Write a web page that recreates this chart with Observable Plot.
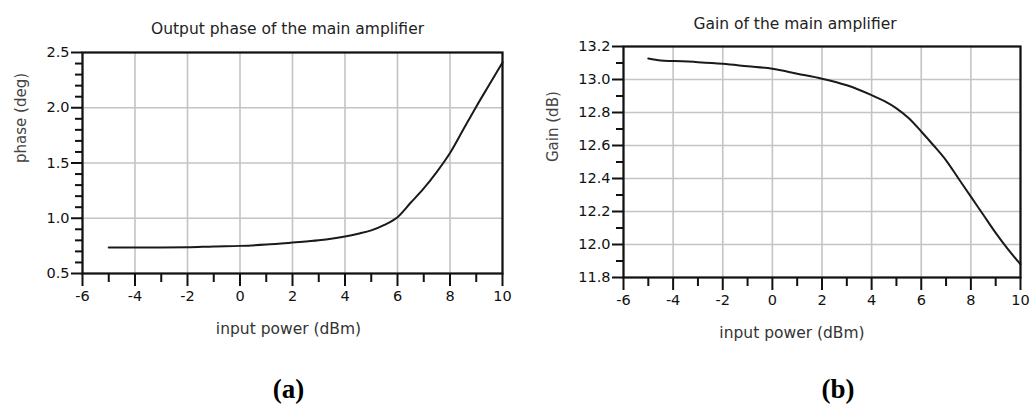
<!DOCTYPE html>
<html><head><meta charset="utf-8">
<script src="https://cdn.jsdelivr.net/npm/d3@7"></script>
<script src="https://cdn.jsdelivr.net/npm/@observablehq/plot@0.6"></script>
<style>
body{margin:0;background:#fff}
#wrap{display:flex;width:1032px;height:414px;background:#fff}
</style>
</head><body><div id="wrap"></div>
<script>
// ---- data ----
const phaseX = [-5, -4, -3, -2, -1, 0, 1, 2, 3, 4, 4.5, 5, 5.5, 6, 6.5, 7, 7.5, 8, 8.5, 9, 9.5, 10];
const phaseY = [0.735, 0.735, 0.735, 0.737, 0.745, 0.75, 0.762, 0.78, 0.80, 0.835, 0.86, 0.89, 0.94, 1.01, 1.14, 1.27, 1.42, 1.59, 1.80, 2.01, 2.21, 2.41];
const gainX = [-5, -4.5, -4, -3, -2, -1, 0, 1, 2, 3, 4, 4.5, 5, 5.5, 6, 6.5, 7, 7.5, 8, 8.5, 9, 9.5, 10];
const gainY = [13.127, 13.115, 13.112, 13.105, 13.095, 13.08, 13.065, 13.035, 13.005, 12.965, 12.905, 12.87, 12.825, 12.765, 12.685, 12.6, 12.51, 12.4, 12.29, 12.18, 12.07, 11.97, 11.88];

const xMajor = [-6, -4, -2, 0, 2, 4, 6, 8, 10];
const xMinor = [-5, -3, -1, 1, 3, 5, 7, 9];
const phaseMajor = [0.5, 1.0, 1.5, 2.0, 2.5];
const phaseMinor = [0.6, 0.7, 0.8, 0.9, 1.1, 1.2, 1.3, 1.4, 1.6, 1.7, 1.8, 1.9, 2.1, 2.2, 2.3, 2.4];
const gainMajor = [11.8, 12.0, 12.2, 12.4, 12.6, 12.8, 13.0, 13.2];
const gainMinor = [11.9, 12.1, 12.3, 12.5, 12.7, 12.9, 13.1];

const titleA = "Output phase of the main amplifier";
const titleB = "Gain of the main amplifier";
const xLabel = "input power (dBm)";
const yLabelA = "phase (deg)";
const yLabelB = "Gain (dB)";

function panel(c) {
  const pts = c.xs.map((x, i) => ({x, y: c.ys[i]}));
  return Plot.plot({
    width: c.width, height: 414,
    marginLeft: c.ml, marginRight: c.mr, marginTop: c.mt, marginBottom: c.mb,
    style: {fontFamily: "DejaVu Sans", fontSize: "14px", color: "#111", background: "#fff"},
    x: {domain: [-6, 10]},
    y: {domain: c.ydom},
    marks: [
      Plot.gridX(xMajor, {stroke: "#c4c4c4", strokeOpacity: 1, strokeWidth: 1.6}),
      Plot.gridY(c.yMajor, {stroke: "#c4c4c4", strokeOpacity: 1, strokeWidth: 1.6}),
      Plot.axisX(xMajor, {tickSize: 13, tickPadding: 4, fontSize: 14.5, tickFormat: d => `${d}`, label: null, stroke: "#111", strokeWidth: 2, fill: "#111"}),
      Plot.axisX(xMinor, {tickSize: 9, tickFormat: () => "", label: null, stroke: "#111", strokeWidth: 2}),
      Plot.axisY(c.yMajor, {tickSize: 11, tickPadding: 2, fontSize: 14.5, tickFormat: d3.format(".1f"), label: null, stroke: "#111", strokeWidth: 2, fill: "#111"}),
      Plot.axisY(c.yMinor, {tickSize: 7, tickFormat: () => "", label: null, stroke: "#111", strokeWidth: 2}),
      Plot.line(pts, {x: "x", y: "y", curve: "monotone-x", stroke: "#1a1a1a", strokeWidth: 2}),
      Plot.frame({stroke: "#111", strokeWidth: 2.2}),
      Plot.text([c.title], {frameAnchor: "top", dx: c.tdx, dy: c.tdy, fontSize: 15.5, fill: "#222"}),
      Plot.text([xLabel], {frameAnchor: "bottom", dx: c.xldx, dy: 60, fontSize: 15.5, fill: "#333"}),
      Plot.text([c.ylabel], {frameAnchor: "left", dx: c.yldx, rotate: -90, fontSize: 15, fill: "#444"}),
      Plot.text([c.tag], {frameAnchor: "bottom", dx: c.tagdx, dy: c.tagdy, fontSize: 27, fontWeight: "bold", fontFamily: "Liberation Serif", fill: "#000"})
    ]
  });
}

const wrap = document.getElementById("wrap");
wrap.append(panel({
  xs: phaseX, ys: phaseY, ydom: [0.5, 2.5], yMajor: phaseMajor, yMinor: phaseMinor,
  width: 516, ml: 82, mr: 14, mt: 52, mb: 141,
  title: titleA, tdx: -5, tdy: -30, xldx: -4, ylabel: yLabelA, yldx: -61,
  tag: "(a)", tagdx: -4, tagdy: 124
}));
wrap.append(panel({
  xs: gainX, ys: gainY, ydom: [11.8, 13.2], yMajor: gainMajor, yMinor: gainMinor,
  width: 516, ml: 107, mr: 12, mt: 46, mb: 137,
  title: titleB, tdx: -27, tdy: -29, xldx: -30, ylabel: yLabelB, yldx: -70,
  tag: "(b)", tagdx: 16, tagdy: 120
}));
</script>
</body></html>
